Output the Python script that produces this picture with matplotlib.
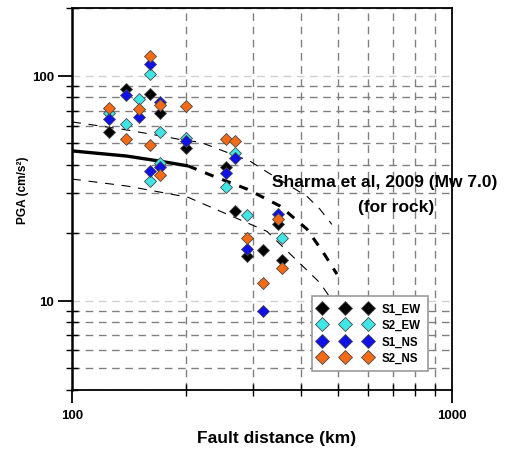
import numpy as np
import matplotlib
matplotlib.use("Agg")
import matplotlib.pyplot as plt
from matplotlib.ticker import FixedLocator, NullFormatter, FixedFormatter, LogLocator

plt.rcParams["font.family"] = ["Liberation Sans", "DejaVu Sans"]
plt.rcParams["font.weight"] = "bold"

# ---- observed PGA (cm/s^2) vs fault distance (km) ----
s1_ew_x = [125, 139, 160, 170, 200, 254, 269, 289, 319, 348, 358]
s1_ew_y = [56.1, 87.5, 83.1, 68.2, 47.7, 39.4, 24.9, 15.8, 16.8, 21.8, 15.1]

s2_ew_x = [125, 139, 150, 160, 160, 170, 170, 200, 254, 269, 289, 358]
s2_ew_y = [68.2, 61.0, 78.4, 101.8, 33.9, 56.1, 40.8, 52.7, 31.9, 45.3, 24.0, 18.9]

s1_ns_x = [125, 139, 150, 160, 160, 170, 170, 200, 254, 269, 289, 319, 348]
s1_ns_y = [64.3, 81.7, 65.8, 112.3, 37.8, 76.3, 39.1, 51.4, 36.9, 42.9, 16.9, 8.96, 24.2]

s2_ns_x = [125, 139, 150, 160, 160, 170, 170, 200, 254, 269, 289, 319, 348, 358]
s2_ns_y = [72.2, 52.3, 71.2, 122.4, 49.2, 74.2, 36.1, 73.2, 52.3, 51.1, 18.9, 12.0, 23.0, 14.0]

# ---- Sharma et al. (2009) prediction, Mw 7.0 rock ----
mean_x = [100, 139.5, 170, 202, 235, 289, 353, 415, 458, 498]
mean_y = [46.3, 43.9, 41.7, 39.7, 35.8, 31.3, 26.3, 20.8, 16.4, 13.1]
upper_x = [100, 139.5, 202, 217, 294, 326, 415, 449, 483]
upper_y = [62.3, 57.4, 51.3, 50.7, 41.7, 37.3, 29.1, 25.5, 21.8]
lower_x = [100, 139.5, 202, 249, 326, 381, 449, 492]
lower_y = [34.7, 32.3, 28.8, 24.7, 20.3, 15.7, 12.0, 9.6]
solid_end = 4  # mean curve is solid up to ~200 km

series = [
    ("S1_EW", s1_ew_x, s1_ew_y, "#000000"),
    ("S2_EW", s2_ew_x, s2_ew_y, "#3ee6e6"),
    ("S1_NS", s1_ns_x, s1_ns_y, "#1010e8"),
    ("S2_NS", s2_ns_x, s2_ns_y, "#f56a14"),
]

fig = plt.figure(figsize=(5.07, 4.52), dpi=100)
ax = fig.add_axes([0.142, 0.135, 0.7495, 0.845])
ax.set_xscale("log")
ax.set_yscale("log")
ax.set_xlim(100, 1000)
ax.set_ylim(4, 200)

# grid
ax.grid(True, which="minor", color="#808080", ls=(0, (5.5, 4)), lw=1.0)
ax.grid(True, which="major", axis="y", color="#d0d0d0", ls=(0, (5.5, 4)), lw=1.0)

# prediction curves
ax.plot(mean_x[:solid_end], mean_y[:solid_end], color="black", lw=2.4, solid_capstyle="butt")
ax.plot(mean_x[solid_end - 1:], mean_y[solid_end - 1:], color="black", lw=2.2, ls=(0, (3, 3)))
ax.plot(upper_x, upper_y, color="black", lw=0.8, ls=(0, (8, 7)))
ax.plot(lower_x, lower_y, color="black", lw=0.8, ls=(0, (8, 7)))

for name, xs, ys, c in series:
    ax.plot(xs, ys, ls="none", marker="D", ms=6.2, mfc=c, mec="#4a4a4a", mew=0.6, label=name)

ax.text(336, 34.0, "Sharma et al, 2009 (Mw 7.0)", fontsize=12.5, fontweight="bold",
        va="center", ha="left", clip_on=False)
ax.text(713, 26.3, "(for rock)", fontsize=12.5, fontweight="bold", va="center", ha="center")

# ticks
ax.xaxis.set_major_locator(FixedLocator([100, 1000]))
ax.xaxis.set_major_formatter(FixedFormatter(["100", "1000"]))
ax.xaxis.set_minor_locator(LogLocator(base=10, subs=np.arange(2, 10)))
ax.xaxis.set_minor_formatter(NullFormatter())
ax.yaxis.set_major_locator(FixedLocator([10, 100]))
ax.yaxis.set_major_formatter(FixedFormatter(["10", "100"]))
ax.yaxis.set_minor_locator(LogLocator(base=10, subs=np.arange(2, 10)))
ax.yaxis.set_minor_formatter(NullFormatter())

ax.tick_params(axis="x", which="major", direction="out", length=9, width=1.3, pad=5, labelsize=9.5)
ax.tick_params(axis="x", which="minor", direction="inout", length=9, width=1.0)
ax.tick_params(axis="y", which="major", direction="out", length=10, width=1.3, pad=3, labelsize=9.5)
ax.tick_params(axis="y", which="minor", direction="inout", length=9, width=1.0)
for lab in ax.get_xticklabels() + ax.get_yticklabels():
    lab.set_fontweight("bold")

for s in ax.spines.values():
    s.set_linewidth(1.3)
ax.spines["left"].set_linewidth(1.8)

ax.set_xlabel("Fault distance (km)", fontsize=12.5, fontweight="bold")
ax.xaxis.set_label_coords(0.539, -0.105)
ax.set_ylabel("PGA (cm/s²)", fontsize=8.6, fontweight="bold")
ax.yaxis.set_label_coords(-0.112, 0.526)

leg = ax.legend(loc="lower right", bbox_to_anchor=(0.937, 0.05), borderaxespad=0, numpoints=3,
                handlelength=4.6, handletextpad=0.9, labelspacing=0.38, fontsize=8.3, fancybox=False,
                framealpha=1, edgecolor="#9a9a9a", borderpad=0.6, markerscale=1.2)
leg.get_frame().set_linewidth(1.2)

fig.savefig("out.png", dpi=100)
